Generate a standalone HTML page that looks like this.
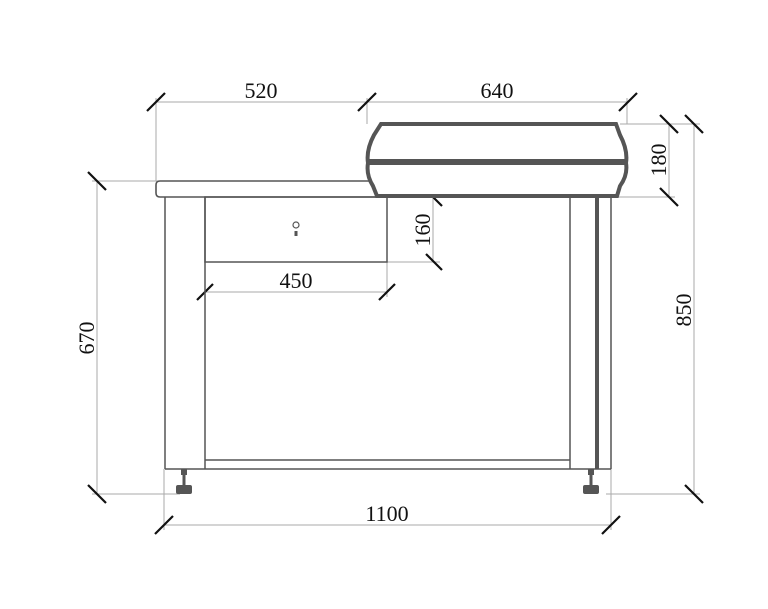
<!DOCTYPE html>
<html><head><meta charset="utf-8"><style>
html,body{margin:0;padding:0;background:#fff;width:768px;height:609px;overflow:hidden}
text{font-family:"Liberation Serif",serif;font-size:22px;fill:#111}
</style></head><body>
<svg width="768" height="609" viewBox="0 0 768 609" xmlns="http://www.w3.org/2000/svg">
<g stroke="#aaa" stroke-width="1" fill="none">
<line x1="156" y1="102" x2="628" y2="102"/>
<line x1="156" y1="98" x2="156" y2="181"/>
<line x1="367" y1="98" x2="367" y2="124"/>
<line x1="627" y1="98" x2="627" y2="124"/>
<line x1="620" y1="124" x2="700" y2="124"/>
<line x1="610" y1="197" x2="675" y2="197"/>
<line x1="669" y1="124" x2="669" y2="197"/>
<line x1="694" y1="124" x2="694" y2="494"/>
<line x1="606" y1="494" x2="700" y2="494"/>
<line x1="92" y1="181" x2="160" y2="181"/>
<line x1="97" y1="181" x2="97" y2="494"/>
<line x1="92" y1="494" x2="180" y2="494"/>
<line x1="433" y1="197" x2="433" y2="262"/>
<line x1="387" y1="262" x2="440" y2="262"/>
<line x1="205" y1="262" x2="205" y2="297"/>
<line x1="387" y1="262" x2="387" y2="297"/>
<line x1="205" y1="292" x2="387" y2="292"/>
<line x1="164" y1="469" x2="164" y2="530"/>
<line x1="611" y1="469" x2="611" y2="530"/>
<line x1="164" y1="525" x2="611" y2="525"/>
</g>
<g stroke="#111" stroke-width="2.2">
<line x1="147" y1="111" x2="165" y2="93"/>
<line x1="358" y1="111" x2="376" y2="93"/>
<line x1="619" y1="111" x2="637" y2="93"/>
<line x1="660" y1="115" x2="678" y2="133"/>
<line x1="685" y1="115" x2="703" y2="133"/>
<line x1="660" y1="188" x2="678" y2="206"/>
<line x1="88" y1="172" x2="106" y2="190"/>
<line x1="88" y1="485" x2="106" y2="503"/>
<line x1="685" y1="485" x2="703" y2="503"/>
<line x1="426" y1="190" x2="442" y2="206"/>
<line x1="426" y1="254" x2="442" y2="270"/>
<line x1="197" y1="300" x2="213" y2="284"/>
<line x1="379" y1="300" x2="395" y2="284"/>
<line x1="155" y1="534" x2="173" y2="516"/>
<line x1="602" y1="534" x2="620" y2="516"/>
</g>
<path d="M160 181 H380 V197 H160 Q156 197 156 193 V185 Q156 181 160 181 Z" fill="#fff" stroke="#555" stroke-width="1.6"/>
<g fill="none" stroke="#555" stroke-width="1.5">
<line x1="165" y1="197" x2="165" y2="469"/>
<line x1="205" y1="197" x2="205" y2="469"/>
<rect x="205" y="197" width="182" height="65"/>
<line x1="570" y1="197" x2="570" y2="469"/>
<line x1="611" y1="197" x2="611" y2="469"/>
<line x1="205" y1="460" x2="570" y2="460"/>
<line x1="165" y1="469" x2="611" y2="469"/>
</g>
<line x1="597" y1="197" x2="597" y2="469" stroke="#555" stroke-width="4"/>
<circle cx="296" cy="225" r="3" fill="none" stroke="#555" stroke-width="1.2"/>
<rect x="294.5" y="231" width="3" height="5" fill="#555"/>
<path d="M381 124 H616 L620 135 Q628 150 626 163 Q628 175 620 186 L617 196 H377 L373 186 Q366 175 368 163 Q366 150 374 135 Z" fill="#fff" stroke="#555" stroke-width="4"/>
<rect x="368" y="159" width="258" height="6" fill="#555"/>
<g fill="#555">
<rect x="181" y="469" width="6" height="6"/>
<rect x="182.5" y="475" width="3" height="11"/>
<rect x="176" y="485" width="16" height="9" rx="2"/>
<rect x="588" y="469" width="6" height="6"/>
<rect x="589.5" y="475" width="3" height="11"/>
<rect x="583" y="485" width="16" height="9" rx="2"/>
</g>
<text x="261" y="98" text-anchor="middle">520</text>
<text x="497" y="98" text-anchor="middle">640</text>
<text x="296" y="288" text-anchor="middle">450</text>
<text x="387" y="521" text-anchor="middle">1100</text>
<text transform="translate(94 338) rotate(-90)" text-anchor="middle">670</text>
<text transform="translate(691 310) rotate(-90)" text-anchor="middle">850</text>
<text transform="translate(666 160) rotate(-90)" text-anchor="middle">180</text>
<text transform="translate(430 230) rotate(-90)" text-anchor="middle">160</text>
</svg>
</body></html>
